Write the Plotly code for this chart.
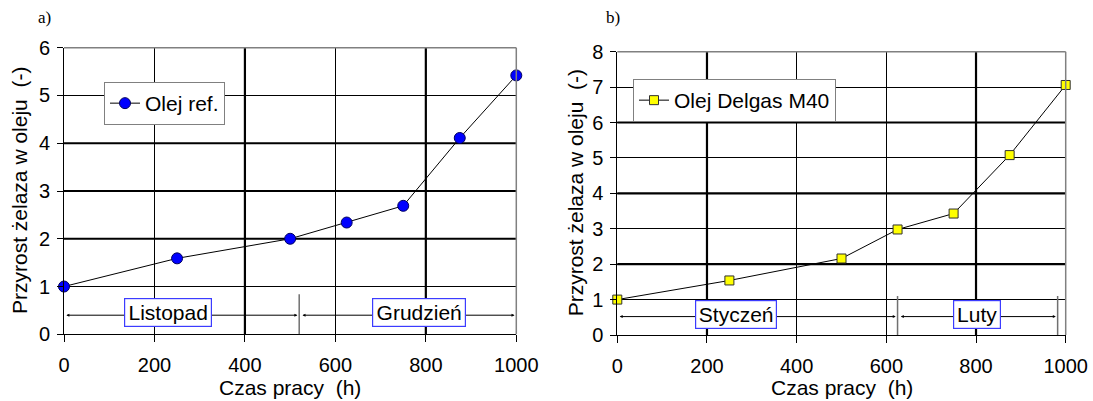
import plotly.graph_objects as go

# ---------------- data ----------------
hours = [0, 250, 500, 625, 750, 875, 1000]
iron_ref = [1.0, 1.59, 2.0, 2.34, 2.69, 4.11, 5.42]
iron_delgas = [1.0, 1.54, 2.16, 2.98, 3.43, 5.08, 7.06]

months_a = ["Listopad", "Grudzień"]
bounds_a = [0, 520, 1000]
months_b = ["Styczeń", "Luty"]
bounds_b = [0, 625, 982]

x_ticks = [0, 200, 400, 600, 800, 1000]
y_ticks_a = [0, 1, 2, 3, 4, 5, 6]
y_ticks_b = [0, 1, 2, 3, 4, 5, 6, 7, 8]

# ---------------- layout constants ----------------
W, H = 1093, 401
FONT = "Liberation Sans, Arial, sans-serif"
FS = 20

def px_x(p):
    return p / W

def px_y(p):
    return (H - p) / H

fig = go.Figure()

fig.add_trace(go.Scatter(
    x=hours, y=iron_ref, name="Olej ref.", mode="lines+markers",
    line=dict(color="black", width=1),
    marker=dict(symbol="circle", size=11, color="#0000ff",
                line=dict(color="#000060", width=1)),
    cliponaxis=False, xaxis="x", yaxis="y", legend="legend"))

fig.add_trace(go.Scatter(
    x=hours, y=iron_delgas, name="Olej Delgas M40", mode="lines+markers",
    line=dict(color="black", width=1),
    marker=dict(symbol="square", size=9, color="#ffff00",
                line=dict(color="#303030", width=1)),
    cliponaxis=False, xaxis="x2", yaxis="y2", legend="legend2"))

axis_common = dict(
    showgrid=True, gridcolor="black", gridwidth=1,
    showline=True, linecolor="black", linewidth=1,
    ticks="outside", tickcolor="black", ticklen=6, tickwidth=1,
    zeroline=False, automargin=False,
    tickfont=dict(family=FONT, size=FS, color="black"),
)

layout = dict(
    width=W, height=H,
    margin=dict(l=0, r=0, t=0, b=0, autoexpand=False),
    paper_bgcolor="white", plot_bgcolor="white",
    font=dict(family=FONT, size=FS, color="black"),
    xaxis=dict(axis_common, domain=[px_x(64), px_x(516.3)], range=[0, 1000],
               tickvals=x_ticks, anchor="y", ticklen=7, ticklabelstandoff=6),
    yaxis=dict(axis_common, domain=[px_y(334.3), px_y(47.7)], range=[0, 6],
               tickvals=y_ticks_a, anchor="x", ticklabelstandoff=3),
    xaxis2=dict(axis_common, domain=[px_x(617.3), px_x(1065.7)], range=[0, 1000],
                tickvals=x_ticks, anchor="y2", ticklen=7, ticklabelstandoff=6),
    yaxis2=dict(axis_common, domain=[px_y(335), px_y(51.7)], range=[0, 8],
                tickvals=y_ticks_b, anchor="x2", ticklabelstandoff=3),
    legend=dict(x=px_x(104), y=px_y(82), xanchor="left", yanchor="top",
                bgcolor="white", bordercolor="#808080", borderwidth=1,
                font=dict(family=FONT, size=21), itemwidth=30),
    legend2=dict(x=px_x(633), y=px_y(79), xanchor="left", yanchor="top",
                 bgcolor="white", bordercolor="#808080", borderwidth=1,
                 font=dict(family=FONT, size=21), itemwidth=30),
    showlegend=True,
)
fig.update_layout(**layout)

shapes = []
# thicker grid lines
thick_v = {"x": [400, 800], "x2": [200, 800]}
thick_h = {"y": [2, 3, 4], "y2": [2, 4, 6]}
for xa, ya in (("x", "y"), ("x2", "y2")):
    for v in thick_v[xa]:
        shapes.append(dict(type="line", xref=xa, yref=ya + " domain", x0=v, x1=v,
                           y0=0, y1=1, line=dict(color="black", width=2.2), layer="below"))
    for v in thick_h[ya]:
        shapes.append(dict(type="line", xref=xa + " domain", yref=ya, x0=0, x1=1,
                           y0=v, y1=v, line=dict(color="black", width=2.2), layer="below"))
    # gray top and right frame
    shapes.append(dict(type="line", xref=xa + " domain", yref=ya + " domain",
                       x0=0, x1=1, y0=1, y1=1, line=dict(color="#808080", width=1.5)))
    shapes.append(dict(type="line", xref=xa + " domain", yref=ya + " domain",
                       x0=1, x1=1, y0=0, y1=1, line=dict(color="#808080", width=1.5)))

# month separators
shapes.append(dict(type="line", xref="x", yref="y", x0=bounds_a[1], x1=bounds_a[1],
                   y0=0, y1=0.84, line=dict(color="#707070", width=1.5)))
for b in bounds_b[1:]:
    shapes.append(dict(type="line", xref="x2", yref="y2", x0=b, x1=b,
                       y0=-0.08, y1=1.1, line=dict(color="#707070", width=1.5)))
fig.update_layout(shapes=shapes)

ann = []

def month_arrows(xa, ya, bounds, yarrow):
    gap = 4
    for i in range(len(bounds) - 1):
        x0 = bounds[i] + (gap if i > 0 else 2)
        x1 = bounds[i + 1] - gap
        ann.append(dict(xref=xa, yref=ya, axref=xa, ayref=ya,
                        x=x1, y=yarrow, ax=x0, ay=yarrow, text="",
                        showarrow=True, arrowhead=2, arrowsize=0.6,
                        arrowwidth=1, arrowcolor="black", arrowside="end+start"))

month_arrows("x", "y", bounds_a, 0.40)
month_arrows("x2", "y2", bounds_b, 0.52)

box = dict(bgcolor="white", bordercolor="#3c3cff", borderwidth=1.2, borderpad=1,
           showarrow=False, font=dict(family=FONT, size=21, color="black"))
ann.append(dict(box, xref="x", yref="y", x=230, y=0.46, text=months_a[0], width=84, height=25))
ann.append(dict(box, xref="x", yref="y", x=785, y=0.46, text=months_a[1], width=90, height=25))
ann.append(dict(box, xref="x2", yref="y2", x=265, y=0.59, text=months_b[0], width=78, height=25))
ann.append(dict(box, xref="x2", yref="y2", x=803, y=0.59, text=months_b[1], width=44, height=25))

# axis titles
ytitle = "Przyrost żelaza w oleju  (-)"
xtitle = "Czas pracy  (h)"
ann.append(dict(xref="paper", yref="y domain", x=px_x(19), y=0.5, text=ytitle,
                xanchor="center", yanchor="middle",
                textangle=-90, showarrow=False, font=dict(family=FONT, size=21)))
ann.append(dict(xref="paper", yref="y2 domain", x=px_x(575), y=0.5, text=ytitle,
                xanchor="center", yanchor="middle",
                textangle=-90, showarrow=False, font=dict(family=FONT, size=21)))
ann.append(dict(xref="x domain", yref="paper", x=0.5, y=px_y(387), text=xtitle,
                xanchor="center", yanchor="middle",
                showarrow=False, font=dict(family=FONT, size=21)))
ann.append(dict(xref="x2 domain", yref="paper", x=0.5, y=px_y(387), text=xtitle,
                xanchor="center", yanchor="middle",
                showarrow=False, font=dict(family=FONT, size=21)))

# panel labels
ann.append(dict(xref="paper", yref="paper", x=px_x(36), y=px_y(17), text="a)",
                xanchor="left", yanchor="middle", showarrow=False,
                font=dict(family="Liberation Serif, Times New Roman, serif", size=17)))
ann.append(dict(xref="paper", yref="paper", x=px_x(604), y=px_y(17), text="b)",
                xanchor="left", yanchor="middle", showarrow=False,
                font=dict(family="Liberation Serif, Times New Roman, serif", size=17)))

fig.update_layout(annotations=ann)

fig.write_html(
    "out.html",
    config={"displayModeBar": False},
    post_script="document.body.style.margin='0';document.body.style.overflow='hidden';",
)
